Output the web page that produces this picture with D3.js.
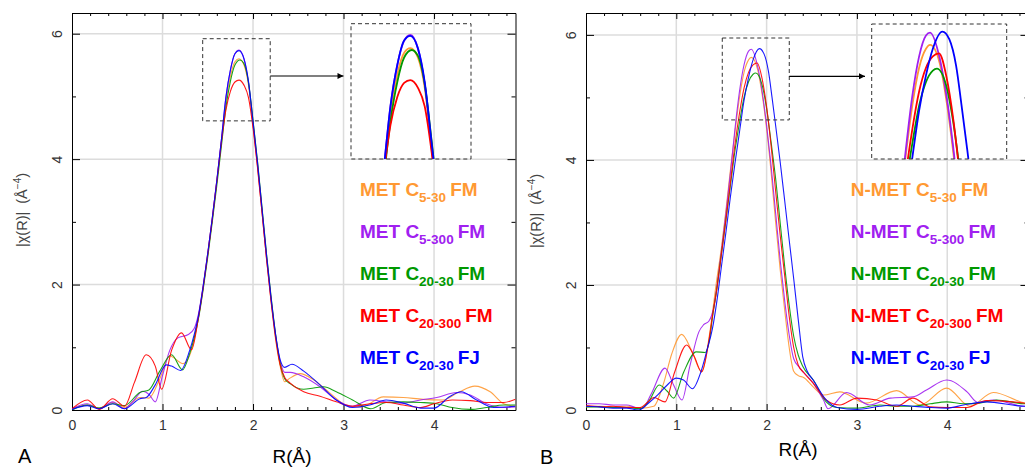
<!DOCTYPE html>
<html><head><meta charset="utf-8">
<script src="https://cdn.jsdelivr.net/npm/d3@7"></script>
<style>
body{margin:0;background:#fff}
svg{display:block}
text{font-family:"Liberation Sans",Arial,Helvetica,sans-serif}
</style>
</head><body>
<svg id="chart" width="1025" height="467"></svg>
<script>
// ---------- data (R in Å, |chi(R)| in Å^-4) ----------
const xTickLabels = [0, 1, 2, 3, 4];
const yTickLabels = [0, 2, 4, 6];
const seriesColors = ["#ff9933", "#a020f0", "#009900", "#ff0000", "#0000ff"];

const legendA = [["MET C","5-30","FM"],["MET C","5-300","FM"],["MET C","20-30","FM"],["MET C","20-300","FM"],["MET C","20-30","FJ"]];
const legendB = [["N-MET C","5-30","FM"],["N-MET C","5-300","FM"],["N-MET C","20-30","FM"],["N-MET C","20-300","FM"],["N-MET C","20-30","FJ"]];

const aOrange = [[0,0.02],[0.17,0.08],[0.3,0.03],[0.45,0.12],[0.58,0.04],[0.75,0.2],[0.85,0.19],[0.97,0.5],[1.08,0.86],[1.23,0.74],[1.32,0.95],[1.40,1.5],[1.45,1.97],[1.50,2.5],[1.55,3.06],[1.60,3.66],[1.65,4.28],[1.70,4.9],[1.75,5.32],[1.80,5.55],[1.845,5.6],[1.90,5.5],[1.95,5.18],[2.00,4.55],[2.05,3.88],[2.10,3.14],[2.15,2.4],[2.20,1.72],[2.25,1.12],[2.30,0.7],[2.35,0.45],[2.40,0.5],[2.52,0.58],[2.67,0.48],[2.85,0.27],[3.03,0.08],[3.2,0.05],[3.44,0.21],[3.66,0.2],[3.88,0.17],[4.1,0.16],[4.28,0.29],[4.45,0.38],[4.62,0.29],[4.77,0.1],[4.9,0.06]];
const aPurple = [[0,0.02],[0.17,0.1],[0.3,0.02],[0.45,0.13],[0.58,0.02],[0.68,0.15],[0.78,0.3],[0.85,0.25],[0.92,0.13],[1.0,0.55],[1.08,0.95],[1.17,1.15],[1.28,1.2],[1.35,1.3],[1.40,1.55],[1.45,1.99],[1.50,2.5],[1.55,3.06],[1.60,3.66],[1.65,4.3],[1.70,4.98],[1.75,5.42],[1.80,5.68],[1.845,5.74],[1.90,5.6],[1.95,5.22],[2.00,4.56],[2.05,3.9],[2.10,3.16],[2.15,2.42],[2.20,1.75],[2.25,1.18],[2.30,0.78],[2.35,0.6],[2.41,0.6],[2.56,0.53],[2.74,0.37],[2.92,0.16],[3.1,0.06],[3.29,0.16],[3.47,0.13],[3.66,0.11],[3.85,0.16],[4.03,0.2],[4.25,0.28],[4.4,0.24],[4.58,0.1],[4.77,0.04],[4.9,0.05]];
const aGreen = [[0,0.0],[0.17,0.08],[0.3,0.03],[0.45,0.1],[0.58,0.07],[0.75,0.28],[0.85,0.32],[0.97,0.62],[1.1,0.88],[1.22,0.64],[1.30,0.9],[1.35,1.15],[1.40,1.48],[1.45,1.93],[1.50,2.44],[1.55,3.0],[1.60,3.58],[1.65,4.2],[1.70,4.82],[1.75,5.24],[1.80,5.5],[1.855,5.58],[1.90,5.52],[1.95,5.22],[2.00,4.62],[2.05,3.96],[2.10,3.22],[2.15,2.48],[2.20,1.8],[2.25,1.2],[2.30,0.74],[2.35,0.5],[2.41,0.42],[2.56,0.33],[2.67,0.35],[2.78,0.37],[2.92,0.29],[3.1,0.16],[3.3,0.02],[3.47,0.12],[3.66,0.13],[3.85,0.12],[4.03,0.1],[4.2,0.04],[4.4,0.01],[4.58,0.04],[4.77,0.08],[4.9,0.08]];
const aRed = [[0,0.02],[0.17,0.16],[0.3,0.01],[0.45,0.18],[0.58,0.06],[0.69,0.44],[0.82,0.88],[0.92,0.7],[0.99,0.33],[1.1,0.95],[1.21,1.23],[1.32,0.96],[1.40,1.5],[1.45,1.96],[1.50,2.48],[1.55,3.04],[1.60,3.64],[1.65,4.26],[1.70,4.78],[1.75,5.08],[1.80,5.23],[1.845,5.26],[1.90,5.18],[1.95,4.98],[2.00,4.5],[2.05,3.86],[2.10,3.14],[2.15,2.4],[2.20,1.73],[2.25,1.15],[2.30,0.72],[2.35,0.52],[2.41,0.43],[2.56,0.29],[2.74,0.22],[2.92,0.13],[3.1,0.06],[3.29,0.1],[3.47,0.12],[3.66,0.08],[3.85,0.04],[4.0,0.1],[4.2,0.16],[4.4,0.15],[4.58,0.12],[4.77,0.12],[4.9,0.17]];
const aBlue = [[0,0.01],[0.17,0.07],[0.3,0.02],[0.45,0.1],[0.58,0.02],[0.75,0.18],[0.82,0.2],[0.92,0.4],[1.04,0.72],[1.1,0.7],[1.2,0.63],[1.3,0.95],[1.35,1.2],[1.40,1.52],[1.45,1.98],[1.50,2.5],[1.55,3.06],[1.60,3.66],[1.65,4.3],[1.70,4.98],[1.75,5.42],[1.80,5.68],[1.845,5.73],[1.90,5.6],[1.95,5.24],[2.00,4.6],[2.05,3.94],[2.10,3.2],[2.15,2.46],[2.20,1.78],[2.25,1.2],[2.30,0.8],[2.35,0.68],[2.43,0.73],[2.56,0.62],[2.74,0.4],[2.92,0.16],[3.1,0.04],[3.29,0.08],[3.47,0.16],[3.66,0.11],[3.85,0.03],[4.0,0.03],[4.17,0.21],[4.3,0.29],[4.47,0.16],[4.66,0.04],[4.9,0.06]];

const bOrange = [[0,0.05],[0.15,0.06],[0.3,0.05],[0.45,0.06],[0.6,0.03],[0.75,0.06],[0.86,0.43],[0.95,0.9],[1.06,1.21],[1.17,0.95],[1.28,0.61],[1.37,1.23],[1.44,2.0],[1.50,2.6],[1.55,3.2],[1.60,3.85],[1.65,4.45],[1.70,5.0],[1.75,5.4],[1.80,5.6],[1.83,5.64],[1.90,5.45],[1.95,5.05],[2.00,4.5],[2.05,3.8],[2.10,3.0],[2.15,2.25],[2.20,1.6],[2.25,1.0],[2.30,0.62],[2.35,0.55],[2.41,0.52],[2.516,0.37],[2.63,0.24],[2.81,0.29],[3.1,0.11],[3.44,0.31],[3.70,0.08],[3.994,0.35],[4.25,0.06],[4.51,0.28],[4.86,0.11],[4.9,0.1]];
const bPurple = [[0,0.1],[0.15,0.1],[0.3,0.08],[0.45,0.08],[0.55,0.04],[0.62,0.02],[0.72,0.25],[0.875,0.67],[0.97,0.4],[1.063,0.16],[1.15,0.7],[1.25,1.25],[1.30,1.36],[1.36,1.42],[1.42,1.68],[1.45,1.98],[1.50,2.55],[1.55,3.15],[1.60,3.8],[1.65,4.5],[1.70,5.1],[1.75,5.52],[1.80,5.74],[1.83,5.77],[1.90,5.5],[1.95,5.1],[2.00,4.55],[2.05,3.9],[2.10,3.15],[2.15,2.4],[2.20,1.75],[2.25,1.2],[2.30,0.82],[2.37,0.67],[2.516,0.43],[2.63,0.16],[2.68,0.02],[2.885,0.28],[3.14,0.08],[3.37,0.19],[3.62,0.21],[3.77,0.32],[3.994,0.48],[4.22,0.29],[4.34,0.12],[4.51,0.16],[4.86,0.06],[4.9,0.06]];
const bGreen = [[0,0.05],[0.15,0.05],[0.3,0.04],[0.45,0.04],[0.6,0.02],[0.7,0.15],[0.81,0.4],[0.9,0.3],[0.97,0.19],[1.08,0.6],[1.22,0.93],[1.32,0.92],[1.37,1.15],[1.40,1.48],[1.45,1.95],[1.50,2.5],[1.55,3.05],[1.60,3.6],[1.65,4.15],[1.70,4.6],[1.75,5.0],[1.80,5.25],[1.85,5.37],[1.88,5.39],[1.95,5.2],[2.00,4.82],[2.05,4.28],[2.10,3.7],[2.15,3.0],[2.20,2.3],[2.25,1.68],[2.30,1.18],[2.35,0.88],[2.40,0.7],[2.516,0.48],[2.66,0.13],[2.78,0.04],[3.0,0.03],[3.255,0.08],[3.44,0.06],[3.62,0.06],[3.81,0.1],[3.994,0.13],[4.18,0.1],[4.36,0.11],[4.545,0.16],[4.86,0.1],[4.9,0.1]];
const bRed = [[0,0.07],[0.1,0.06],[0.2,0.05],[0.3,0.06],[0.45,0.04],[0.6,0.04],[0.68,0.12],[0.75,0.2],[0.875,0.13],[0.98,0.6],[1.115,1.04],[1.2,0.85],[1.28,0.61],[1.36,1.1],[1.40,1.5],[1.45,1.95],[1.50,2.5],[1.55,3.05],[1.60,3.65],[1.65,4.25],[1.70,4.75],[1.75,5.15],[1.80,5.4],[1.85,5.52],[1.895,5.55],[1.95,5.3],[2.00,4.85],[2.05,4.22],[2.10,3.5],[2.15,2.8],[2.20,2.15],[2.25,1.5],[2.30,1.0],[2.35,0.72],[2.41,0.6],[2.516,0.43],[2.66,0.16],[2.81,0.08],[3.0,0.19],[3.22,0.16],[3.44,0.06],[3.62,0.19],[3.81,0.05],[4.0,0.04],[4.22,0.04],[4.43,0.15],[4.73,0.13],[4.9,0.1]];
const bBlue = [[0,0.06],[0.15,0.05],[0.3,0.03],[0.45,0.03],[0.58,0.0],[0.7,0.12],[0.8,0.25],[0.9,0.4],[1.0,0.51],[1.08,0.48],[1.18,0.34],[1.27,0.6],[1.34,0.96],[1.40,1.3],[1.45,1.75],[1.50,2.3],[1.55,2.85],[1.60,3.42],[1.65,3.95],[1.70,4.45],[1.75,4.95],[1.80,5.32],[1.85,5.6],[1.92,5.78],[1.97,5.7],[2.02,5.42],[2.06,5.0],[2.10,4.55],[2.15,3.97],[2.20,3.35],[2.25,2.72],[2.30,2.1],[2.35,1.45],[2.40,0.85],[2.45,0.62],[2.516,0.48],[2.66,0.16],[2.78,0.04],[3.0,0.01],[3.255,0.06],[3.44,0.08],[3.62,0.06],[3.81,0.04],[3.994,0.03],[4.18,0.08],[4.43,0.13],[4.86,0.06],[4.9,0.06]];

// ---------- layout ----------
const panels = [
  {id:"A", series:[aOrange,aPurple,aGreen,aRed,aBlue], legend:legendA,
   px0:72, px1:515.5, py0:410, py1:13, xmax:4.9, ymax:6.33,
   legendX:360, legendY:196, legendStep:42.1,
   box:{r0:1.444, r1:2.19, v0:4.61, v1:5.92},
   inset:{x0:351, x1:471, y0:23.7, y1:159, xd:[1.412,2.288], yd:[4.42,5.86]},
   arrowTip:343.5, arrowY:76,
   ylabX:26.5, ylabY:210, xlabX:292, xlabY:463, letterX:18, letterY:463},
  {id:"B", series:[bOrange,bPurple,bGreen,bRed,bBlue], legend:legendB,
   px0:586, px1:1028.5, py0:410, py1:13, xmax:4.9, ymax:6.35,
   legendX:850.7, legendY:196, legendStep:42.1,
   box:{r0:1.509, r1:2.251, v0:4.64, v1:5.95},
   inset:{x0:871.7, x1:1006.7, y0:24, y1:159, xd:[1.404,2.389], yd:[4.44,5.86]},
   arrowTip:865, arrowY:76.3,
   ylabX:540.5, ylabY:211, xlabX:798, xlabY:456, letterX:540, letterY:464}
];

const svg = d3.select("#chart");
svg.append("rect").attr("width",1025).attr("height",467).attr("fill","#fff");
const defs = svg.append("defs");
defs.append("marker").attr("id","arrowhead").attr("viewBox","0 0 10 10")
  .attr("refX",10).attr("refY",5).attr("markerWidth",8).attr("markerHeight",6)
  .attr("markerUnits","userSpaceOnUse").attr("orient","auto")
  .append("path").attr("d","M0,0L10,5L0,10Z").attr("fill","#000");

panels.forEach(p => {
  const g = svg.append("g");
  const x = d3.scaleLinear().domain([0,p.xmax]).range([p.px0,p.px1]);
  const y = d3.scaleLinear().domain([0,p.ymax]).range([p.py0,p.py1]);

  defs.append("clipPath").attr("id","clip"+p.id).append("rect")
    .attr("x",p.px0).attr("y",p.py1).attr("width",p.px1-p.px0).attr("height",p.py0-p.py1);
  const ins = p.inset;
  defs.append("clipPath").attr("id","clipI"+p.id).append("rect")
    .attr("x",ins.x0).attr("y",ins.y0).attr("width",ins.x1-ins.x0).attr("height",ins.y1-ins.y0);

  // grid
  const grid = g.append("g").attr("stroke","#dcdcdc").attr("stroke-width",1.5);
  xTickLabels.filter(d=>d>0).forEach(d=>grid.append("line").attr("x1",x(d)).attr("x2",x(d)).attr("y1",p.py1).attr("y2",p.py0));
  yTickLabels.filter(d=>d>0).forEach(d=>grid.append("line").attr("x1",p.px0).attr("x2",p.px1).attr("y1",y(d)).attr("y2",y(d)));

  // axes
  const minorX = d3.range(0, p.xmax+0.001, 0.2).map(v=>+v.toFixed(1));
  const isInt = v => Math.abs(v-Math.round(v))<1e-6;
  const styleAxis = sel => {
    sel.selectAll(".domain").attr("stroke","#000").attr("stroke-width",1);
    sel.selectAll(".tick line").attr("stroke","#000");
  };
  const bottom = g.append("g").attr("transform",`translate(0,${p.py0})`)
    .call(d3.axisBottom(x).tickValues(minorX).tickSizeInner(-3).tickSizeOuter(0).tickPadding(10)
      .tickFormat(d=> xTickLabels.includes(d) ? d3.format("d")(d) : ""));
  bottom.selectAll(".tick").filter(d=>isInt(d)).select("line").attr("y2",-6);
  bottom.selectAll("text").attr("font-size",14).attr("fill","#333").attr("font-family","Liberation Sans, Arial, sans-serif");
  styleAxis(bottom);
  const top = g.append("g").attr("transform",`translate(0,${p.py1})`)
    .call(d3.axisTop(x).tickValues(minorX).tickSizeInner(-3).tickSizeOuter(0).tickFormat(""));
  top.selectAll(".tick").filter(d=>isInt(d)).select("line").attr("y2",6);
  styleAxis(top);

  const yMinor = d3.range(0, Math.floor(p.ymax)+1, 1);
  const left = g.append("g").attr("transform",`translate(${p.px0},0)`)
    .call(d3.axisLeft(y).tickValues(yMinor).tickSizeInner(-4).tickSizeOuter(0).tickFormat(""));
  left.selectAll(".tick").filter(d=>d%2===0).select("line").attr("x2",8);
  styleAxis(left);
  left.selectAll(".tick").filter(d=>yTickLabels.includes(d)).append("text")
    .attr("transform","rotate(-90)").attr("x",0).attr("y",-10)
    .attr("text-anchor","middle").attr("font-size",14).attr("fill","#333")
    .attr("font-family","Liberation Sans, Arial, sans-serif").text(d=>d);
  const right = g.append("g").attr("transform",`translate(${p.px1},0)`)
    .call(d3.axisRight(y).tickValues(yMinor).tickSizeInner(-4).tickSizeOuter(0).tickFormat(""));
  right.selectAll(".tick").filter(d=>d%2===0).select("line").attr("x2",-8);
  styleAxis(right);

  // curves
  const line = d3.line().x(d=>x(d[0])).y(d=>y(d[1])).curve(d3.curveMonotoneX);
  const cg = g.append("g").attr("clip-path",`url(#clip${p.id})`);
  p.series.forEach((s,i)=>{
    cg.append("path").datum(s).attr("d",line).attr("fill","none")
      .attr("stroke",seriesColors[i]).attr("stroke-width",1.1).attr("stroke-opacity",0.9);
  });

  // small dashed box
  g.append("rect").attr("x",x(p.box.r0)).attr("y",y(p.box.v1))
    .attr("width",x(p.box.r1)-x(p.box.r0)).attr("height",y(p.box.v0)-y(p.box.v1))
    .attr("fill","none").attr("stroke","#333").attr("stroke-width",1).attr("stroke-dasharray","4,3");
  // arrow
  g.append("line").attr("x1",x(p.box.r1)).attr("x2",p.arrowTip).attr("y1",p.arrowY).attr("y2",p.arrowY)
    .attr("stroke","#000").attr("stroke-width",1.2).attr("marker-end","url(#arrowhead)");

  // inset (magnified)
  const xi = d3.scaleLinear().domain(ins.xd).range([ins.x0,ins.x1]);
  const yi = d3.scaleLinear().domain(ins.yd).range([ins.y1,ins.y0]);
  const li = d3.line().x(d=>xi(d[0])).y(d=>yi(d[1])).curve(d3.curveMonotoneX);
  const ig = g.append("g").attr("clip-path",`url(#clipI${p.id})`);
  p.series.forEach((s,i)=>{
    ig.append("path").datum(s).attr("d",li).attr("fill","none")
      .attr("stroke",seriesColors[i]).attr("stroke-width",1.8);
  });
  g.append("rect").attr("x",ins.x0).attr("y",ins.y0).attr("width",ins.x1-ins.x0).attr("height",ins.y1-ins.y0)
    .attr("fill","none").attr("stroke","#333").attr("stroke-width",1).attr("stroke-dasharray","4,3");

  // legend
  p.legend.forEach((lab,i)=>{
    const t = g.append("text").attr("x",p.legendX).attr("y",p.legendY+i*p.legendStep)
      .attr("font-size",19).attr("font-weight","bold").attr("fill",seriesColors[i]);
    t.append("tspan").text(lab[0]);
    t.append("tspan").attr("dy",6).attr("font-size",13.5).text(lab[1]);
    t.append("tspan").attr("dy",-6).attr("dx",4).text(lab[2]);
  });

  // y label
  const yl = g.append("text").attr("transform",`translate(${p.ylabX},${p.ylabY}) rotate(-90)`)
    .attr("text-anchor","middle").attr("font-size",14.5).attr("fill","#444");
  yl.append("tspan").text("|\u03C7(R)|\u00A0\u00A0(\u00C5");
  yl.append("tspan").attr("dy",-6).attr("font-size",10).text("\u22124");
  yl.append("tspan").attr("dy",6).text(")");
  // x label
  g.append("text").attr("x",p.xlabX).attr("y",p.xlabY).attr("text-anchor","middle")
    .attr("font-size",19).attr("fill","#000").text("R(\u00C5)");
  // panel letter
  g.append("text").attr("x",p.letterX).attr("y",p.letterY).attr("font-size",20).attr("fill","#000").text(p.id);
});
</script>
</body></html>
